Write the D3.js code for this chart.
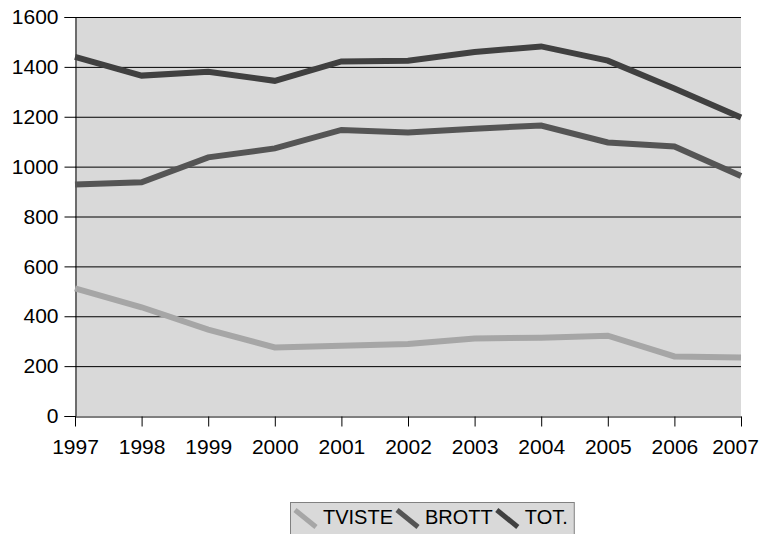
<!DOCTYPE html>
<html>
<head>
<meta charset="utf-8">
<script src="https://cdn.jsdelivr.net/npm/d3@7"></script>
<style>
  body { margin: 0; background: #fff; }
  svg { display: block; font-family: "Liberation Sans", Arial, sans-serif; }
</style>
</head>
<body>
<svg id="chart" width="760" height="534"></svg>
<script>
const years = ['1997', '1998', '1999', '2000', '2001', '2002', '2003', '2004', '2005', '2006', '2007'];
const tviste = [512, 436, 346, 275, 282, 289, 311, 314, 322, 239, 235];
const brott = [928, 937, 1037, 1073, 1147, 1137, 1152, 1165, 1097, 1081, 962];
const tot = [1440, 1365, 1380, 1344, 1422, 1425, 1460, 1482, 1425, 1313, 1197];
const yTicks = [0, 200, 400, 600, 800, 1000, 1200, 1400, 1600];

const series = [
  { name: 'TVISTE', values: tviste, color: '#a6a6a6' },
  { name: 'BROTT', values: brott, color: '#555555' },
  { name: 'TOT.', values: tot, color: '#404040' }
];

const margin = { top: 17, right: 19, bottom: 118, left: 75 };
const width = 760 - margin.left - margin.right;
const height = 534 - margin.top - margin.bottom;

const svg = d3.select('#chart');
const g = svg.append('g').attr('transform', `translate(${margin.left},${margin.top})`);

const x = d3.scalePoint().domain(years).range([0, width]);
const y = d3.scaleLinear().domain([0, 1600]).range([height, 0]);

// plot background
g.append('rect')
  .attr('width', width).attr('height', height)
  .attr('fill', '#d9d9d9');

// gridlines
g.append('g').selectAll('line').data(yTicks.filter(d => d > 0))
  .enter().append('line')
  .attr('x1', 0).attr('x2', width)
  .attr('y1', d => y(d) + 0.5).attr('y2', d => y(d) + 0.5)
  .attr('stroke', '#000').attr('stroke-width', 1);

// axes
const axisLeft = d3.axisLeft(y).tickValues(yTicks).tickFormat(d3.format('d')).tickSize(11).tickPadding(6);
const yAxis = g.append('g').attr('transform', 'translate(0.5,0)').call(axisLeft);
yAxis.select('.domain').attr('stroke', '#000');
yAxis.selectAll('text').attr('font-size', 21).attr('fill', '#000')
  .attr('font-family', '"Liberation Sans", Arial, sans-serif');

const axisBottom = d3.axisBottom(x).tickSize(10).tickPadding(13).tickSizeOuter(0);
const xAxis = g.append('g').attr('transform', `translate(0,${height + 0.5})`).call(axisBottom);
xAxis.select('.domain').attr('stroke', '#000');
xAxis.selectAll('text').attr('font-size', 21).attr('fill', '#000')
  .attr('font-family', '"Liberation Sans", Arial, sans-serif');
// keep the last year label inside the page
xAxis.selectAll('.tick').filter(d => d === years[years.length - 1])
  .select('text').attr('dx', -6);

// lines
const line = d3.line()
  .x((d, i) => x(years[i]))
  .y(d => y(d));

g.selectAll('.series').data(series)
  .enter().append('path')
  .attr('class', 'series')
  .attr('d', d => line(d.values))
  .attr('fill', 'none')
  .attr('stroke', d => d.color)
  .attr('stroke-width', 6)
  .attr('stroke-linejoin', 'miter');

// legend
const legend = svg.append('g').attr('transform', 'translate(290,502)');
const legendBox = legend.append('rect')
  .attr('x', 0.5).attr('y', 0.5).attr('height', 40)
  .attr('fill', '#d9d9d9').attr('stroke', '#808080');

let lx = 5;
series.forEach(s => {
  const item = legend.append('g').attr('transform', `translate(${lx},0)`);
  item.append('line')
    .attr('x1', 0).attr('y1', 8).attr('x2', 21).attr('y2', 25)
    .attr('stroke', s.color).attr('stroke-width', 5);
  const t = item.append('text')
    .attr('x', 28).attr('y', 22)
    .attr('font-size', 20).attr('fill', '#000')
    .text(s.name);
  lx += 28 + t.node().getComputedTextLength() + 4;
});
legendBox.attr('width', lx + 2);
</script>
</body>
</html>
